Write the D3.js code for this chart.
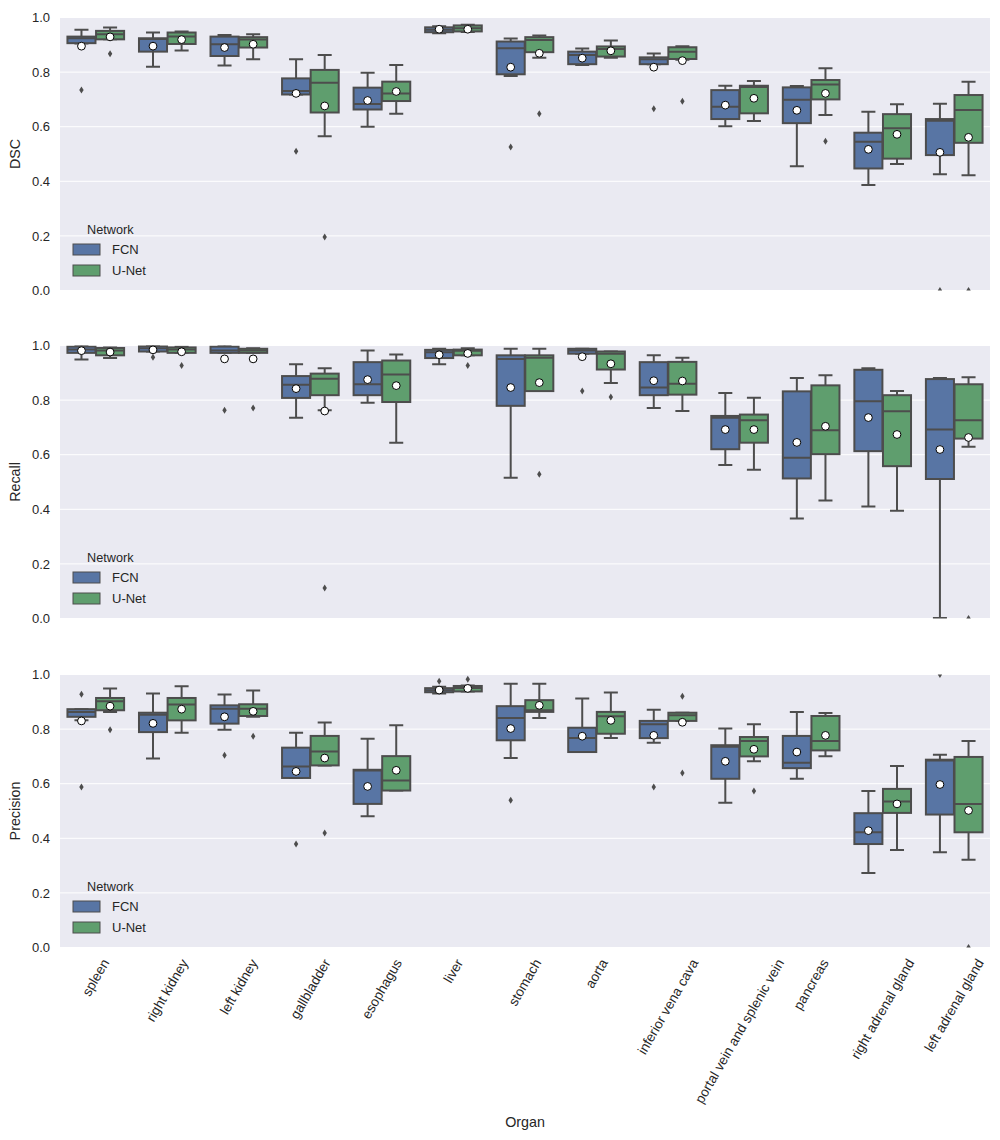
<!DOCTYPE html>
<html>
<head>
<meta charset="utf-8">
<script src="https://cdn.jsdelivr.net/npm/d3@7"></script>
<style>
body { margin: 0; background: #fff; }
text { font-family: "Liberation Sans", Arial, sans-serif; fill: #262626; }
</style>
</head>
<body>
<div id="chart"></div>
<script>
var width = 1000, height = 1140;

var organs = ["spleen", "right kidney", "left kidney", "gallbladder", "esophagus", "liver",
	"stomach", "aorta", "inferior vena cava", "portal vein and splenic vein", "pancreas",
	"right adrenal gland", "left adrenal gland"];
var networks = ["FCN", "U-Net"];
var metrics = ["DSC", "Recall", "Precision"];
var yTicks = [0, 0.2, 0.4, 0.6, 0.8, 1.0];

// each row: [whisker low, q1, median, q3, whisker high, mean, [outliers]]
var dscFCN = [
	[0.905, 0.906, 0.924, 0.930, 0.955, 0.895, [0.734]],
	[0.820, 0.875, 0.921, 0.924, 0.945, 0.895, []],
	[0.824, 0.859, 0.902, 0.930, 0.936, 0.890, []],
	[0.718, 0.718, 0.731, 0.777, 0.847, 0.722, [0.510]],
	[0.600, 0.663, 0.683, 0.743, 0.798, 0.696, []],
	[0.942, 0.946, 0.955, 0.964, 0.968, 0.957, []],
	[0.786, 0.792, 0.887, 0.912, 0.923, 0.818, [0.526]],
	[0.826, 0.829, 0.863, 0.875, 0.886, 0.851, []],
	[0.829, 0.829, 0.847, 0.854, 0.868, 0.818, [0.666]],
	[0.602, 0.628, 0.673, 0.734, 0.750, 0.679, []],
	[0.455, 0.613, 0.699, 0.744, 0.749, 0.660, []],
	[0.386, 0.447, 0.545, 0.578, 0.655, 0.517, []],
	[0.426, 0.496, 0.622, 0.628, 0.684, 0.506, [0.0]]
];
var dscUNet = [
	[0.920, 0.920, 0.939, 0.951, 0.963, 0.929, [0.867]],
	[0.879, 0.903, 0.930, 0.945, 0.949, 0.919, []],
	[0.847, 0.890, 0.919, 0.928, 0.939, 0.902, []],
	[0.565, 0.652, 0.761, 0.808, 0.863, 0.676, [0.196]],
	[0.647, 0.694, 0.722, 0.765, 0.826, 0.729, []],
	[0.947, 0.949, 0.961, 0.971, 0.973, 0.957, []],
	[0.853, 0.873, 0.918, 0.928, 0.934, 0.869, [0.647]],
	[0.853, 0.857, 0.885, 0.894, 0.916, 0.878, []],
	[0.845, 0.848, 0.875, 0.891, 0.895, 0.842, [0.693]],
	[0.621, 0.649, 0.745, 0.750, 0.767, 0.704, []],
	[0.643, 0.700, 0.755, 0.771, 0.814, 0.722, [0.547]],
	[0.463, 0.483, 0.594, 0.646, 0.682, 0.572, []],
	[0.422, 0.541, 0.661, 0.716, 0.765, 0.561, [0.0]]
];
var recallFCN = [
	[0.949, 0.973, 0.985, 0.996, 1.000, 0.981, []],
	[0.978, 0.978, 0.990, 0.998, 1.000, 0.984, [0.957]],
	[0.973, 0.973, 0.982, 0.996, 1.000, 0.951, [0.763]],
	[0.735, 0.808, 0.856, 0.888, 0.931, 0.842, []],
	[0.790, 0.818, 0.858, 0.939, 0.982, 0.875, []],
	[0.931, 0.954, 0.975, 0.984, 0.988, 0.966, []],
	[0.516, 0.779, 0.951, 0.964, 0.988, 0.846, []],
	[0.970, 0.970, 0.982, 0.988, 0.988, 0.959, [0.833]],
	[0.771, 0.818, 0.846, 0.939, 0.964, 0.871, []],
	[0.562, 0.620, 0.735, 0.742, 0.826, 0.692, []],
	[0.366, 0.513, 0.589, 0.832, 0.881, 0.645, []],
	[0.410, 0.613, 0.796, 0.911, 0.917, 0.736, []],
	[0.002, 0.511, 0.692, 0.877, 0.881, 0.619, []]
];
var recallUNet = [
	[0.954, 0.964, 0.982, 0.991, 0.993, 0.976, []],
	[0.973, 0.973, 0.985, 0.993, 0.995, 0.977, [0.927]],
	[0.973, 0.973, 0.982, 0.988, 0.990, 0.951, [0.771]],
	[0.763, 0.818, 0.878, 0.897, 0.917, 0.760, [0.112]],
	[0.644, 0.793, 0.894, 0.945, 0.967, 0.853, []],
	[0.964, 0.964, 0.981, 0.985, 0.990, 0.971, [0.927]],
	[0.833, 0.833, 0.955, 0.964, 0.988, 0.864, [0.528]],
	[0.863, 0.912, 0.970, 0.978, 0.978, 0.933, [0.811]],
	[0.760, 0.820, 0.860, 0.940, 0.955, 0.870, []],
	[0.545, 0.644, 0.726, 0.747, 0.809, 0.692, []],
	[0.432, 0.602, 0.690, 0.854, 0.891, 0.704, []],
	[0.395, 0.558, 0.759, 0.818, 0.833, 0.674, []],
	[0.629, 0.659, 0.726, 0.858, 0.884, 0.663, [0.0]]
];
var precisionFCN = [
	[0.832, 0.845, 0.863, 0.873, 0.873, 0.830, [0.928, 0.588]],
	[0.692, 0.789, 0.853, 0.860, 0.930, 0.821, []],
	[0.798, 0.820, 0.875, 0.887, 0.927, 0.845, [0.704]],
	[0.621, 0.621, 0.663, 0.732, 0.787, 0.645, [0.379]],
	[0.481, 0.526, 0.648, 0.651, 0.765, 0.590, []],
	[0.930, 0.935, 0.942, 0.950, 0.955, 0.943, [0.975]],
	[0.694, 0.759, 0.841, 0.884, 0.966, 0.802, [0.539]],
	[0.716, 0.716, 0.767, 0.805, 0.912, 0.774, []],
	[0.750, 0.767, 0.818, 0.830, 0.871, 0.777, [0.588]],
	[0.530, 0.618, 0.735, 0.741, 0.802, 0.682, []],
	[0.618, 0.657, 0.677, 0.775, 0.863, 0.716, []],
	[0.273, 0.379, 0.422, 0.492, 0.573, 0.428, []],
	[0.349, 0.487, 0.685, 0.688, 0.706, 0.597, [1.0]]
];
var precisionUNet = [
	[0.863, 0.869, 0.902, 0.914, 0.949, 0.884, [0.798]],
	[0.787, 0.832, 0.890, 0.914, 0.957, 0.873, []],
	[0.845, 0.848, 0.875, 0.891, 0.941, 0.865, [0.774]],
	[0.667, 0.667, 0.718, 0.775, 0.824, 0.694, [0.419]],
	[0.575, 0.575, 0.612, 0.701, 0.814, 0.649, []],
	[0.938, 0.938, 0.951, 0.958, 0.960, 0.949, [0.983]],
	[0.841, 0.863, 0.869, 0.906, 0.966, 0.887, []],
	[0.767, 0.783, 0.847, 0.863, 0.934, 0.832, []],
	[0.830, 0.830, 0.851, 0.860, 0.860, 0.825, [0.920, 0.639]],
	[0.682, 0.700, 0.756, 0.771, 0.818, 0.726, [0.573]],
	[0.701, 0.722, 0.756, 0.848, 0.859, 0.777, []],
	[0.357, 0.493, 0.535, 0.581, 0.665, 0.526, []],
	[0.321, 0.422, 0.526, 0.698, 0.756, 0.502, [0.0]]
];

var panelData = [[dscFCN, dscUNet], [recallFCN, recallUNet], [precisionFCN, precisionUNet]];
var colors = ["#5875a4", "#5f9e6e"];
var lineColor = "#4d4d4d";

var left = 60, right = 990;
var panelTops = [17.5, 345.5, 674.5];
var panelH = 273;

var svg = d3.select("#chart").append("svg")
	.attr("width", width)
	.attr("height", height);

var x = d3.scaleBand().domain(organs).range([left, right]).padding(0);
var bw = x.bandwidth();
var xNet = d3.scaleBand().domain(networks).range([0.1 * bw, 0.9 * bw]).padding(0);
var boxW = xNet.bandwidth() * 0.98;

function drawPanel(p){
	var top = panelTops[p];
	var y = d3.scaleLinear().domain([0, 1]).range([top + panelH, top]);
	var g = svg.append("g").attr("class", "panel" + p);

	g.append("rect")
		.attr("x", left).attr("y", top)
		.attr("width", right - left).attr("height", panelH)
		.attr("fill", "#eaeaf2");

	g.selectAll("line.grid").data(yTicks).enter().append("line")
		.attr("class", "grid")
		.attr("x1", left).attr("x2", right)
		.attr("y1", function(d){ return y(d); })
		.attr("y2", function(d){ return y(d); })
		.attr("stroke", "#fff").attr("stroke-width", 1);

	var yAxis = g.append("g")
		.attr("transform", "translate(" + left + ",0)")
		.call(d3.axisLeft(y).tickValues(yTicks).tickFormat(d3.format(".1f")).tickSize(0).tickPadding(10));
	yAxis.select(".domain").remove();
	yAxis.selectAll("text").style("font-size", "13px").attr("fill", "#262626")
		.style("font-family", "'Liberation Sans', Arial, sans-serif");

	g.append("text")
		.attr("transform", "translate(20," + (top + panelH / 2) + ") rotate(-90)")
		.attr("text-anchor", "middle")
		.style("font-size", "14.3px")
		.text(metrics[p]);

	var clipId = "clip" + p;
	svg.append("clipPath").attr("id", clipId).append("rect")
		.attr("x", left).attr("y", top).attr("width", right - left).attr("height", panelH);

	var marks = g.append("g").attr("clip-path", "url(#" + clipId + ")");

	networks.forEach(function(net, n){
		var rows = panelData[p][n];
		rows.forEach(function(r, i){
			var x0 = x(organs[i]) + xNet(net) + (xNet.bandwidth() - boxW) / 2;
			var cx = x0 + boxW / 2;
			var bg = marks.append("g");
			// whiskers
			bg.append("line").attr("x1", cx).attr("x2", cx).attr("y1", y(r[0])).attr("y2", y(r[1]))
				.attr("stroke", lineColor).attr("stroke-width", 2);
			bg.append("line").attr("x1", cx).attr("x2", cx).attr("y1", y(r[3])).attr("y2", y(r[4]))
				.attr("stroke", lineColor).attr("stroke-width", 2);
			bg.selectAll("line.cap").data([r[0], r[4]]).enter().append("line")
				.attr("class", "cap")
				.attr("x1", cx - boxW / 4).attr("x2", cx + boxW / 4)
				.attr("y1", function(d){ return y(d); })
				.attr("y2", function(d){ return y(d); })
				.attr("stroke", lineColor).attr("stroke-width", 2);
			// box
			bg.append("rect")
				.attr("x", x0).attr("width", boxW)
				.attr("y", y(r[3])).attr("height", Math.max(0.5, y(r[1]) - y(r[3])))
				.attr("fill", colors[n]).attr("stroke", lineColor).attr("stroke-width", 2);
			bg.append("line").attr("x1", x0).attr("x2", x0 + boxW).attr("y1", y(r[2])).attr("y2", y(r[2]))
				.attr("stroke", lineColor).attr("stroke-width", 2);
			// outliers
			bg.selectAll("path.flier").data(r[6]).enter().append("path")
				.attr("class", "flier")
				.attr("d", "M0,-3.5L2.2,0L0,3.5L-2.2,0Z")
				.attr("transform", function(d){ return "translate(" + cx + "," + y(d) + ")"; })
				.attr("fill", lineColor);
			// mean
			bg.append("circle").attr("cx", cx).attr("cy", y(r[5])).attr("r", 3.9)
				.attr("fill", "#fff").attr("stroke", "#000").attr("stroke-width", 1);
		});
	});

	// legend
	var bottom = top + panelH;
	var lg = g.append("g");
	lg.append("text").attr("x", 87).attr("y", bottom - 61).attr("dy", "0.35em")
		.style("font-size", "12.7px").text("Network");
	networks.forEach(function(net, n){
		var cy = bottom - 41 + n * 21;
		lg.append("rect").attr("x", 73).attr("y", cy - 5.5).attr("width", 27).attr("height", 11)
			.attr("fill", colors[n]).attr("stroke", lineColor).attr("stroke-width", 1);
		lg.append("text").attr("x", 112).attr("y", cy).attr("dy", "0.35em")
			.style("font-size", "13px").text(net);
	});
}

metrics.forEach(function(m, p){ drawPanel(p); });

// rotated organ labels, centred under their ticks like matplotlib
var labelTop = panelTops[2] + panelH + 9;
var ang = 60 * Math.PI / 180;
var lineH = 15;
organs.forEach(function(o){
	var t = svg.append("text")
		.attr("text-anchor", "middle")
		.attr("dominant-baseline", "central")
		.style("font-size", "13.6px")
		.text(o);
	var w = t.node().getComputedTextLength();
	var bh = w * Math.sin(ang) + lineH * Math.cos(ang);
	var cx = x(o) + bw / 2;
	t.attr("transform", "translate(" + cx + "," + (labelTop + bh / 2) + ") rotate(-60)");
});

svg.append("text")
	.attr("x", (left + right) / 2).attr("y", 1122).attr("dy", "0.35em")
	.attr("text-anchor", "middle")
	.style("font-size", "14.3px")
	.text("Organ");
</script>
</body>
</html>
